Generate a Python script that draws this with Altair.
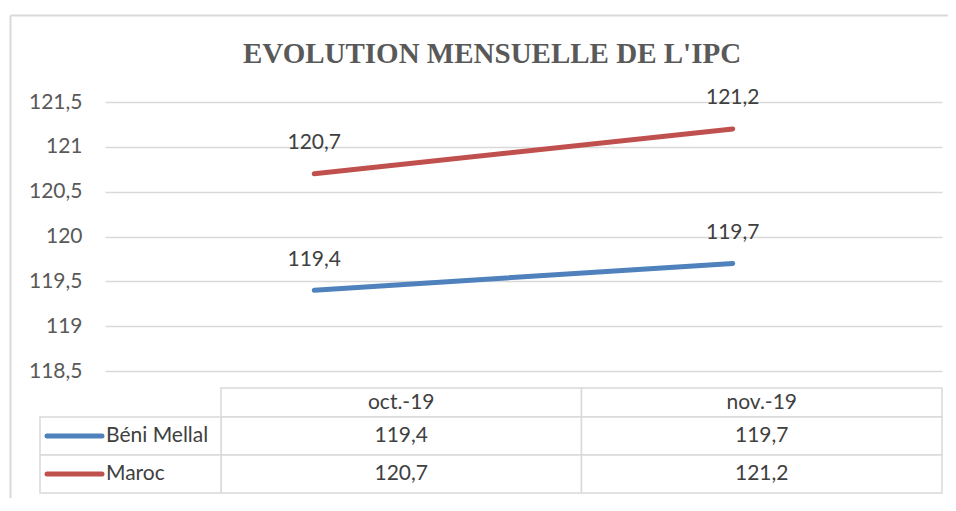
import altair as alt
import pandas as pd

# ---- data ----
months = ["oct.-19", "nov.-19"]
series = ["Béni Mellal", "Maroc"]
beni_mellal = [119.4, 119.7]
maroc = [120.7, 121.2]
colors = ["#4F81BD", "#C0504D"]
y_ticks = [118.5, 119, 119.5, 120, 120.5, 121, 121.5]
title_text = "EVOLUTION MENSUELLE DE L'IPC"


def fr(v):
    return f"{v:.1f}".replace(".", ",")


rows = []
for s, vals in zip(series, [beni_mellal, maroc]):
    for m, v in zip(months, vals):
        rows.append({"series": s, "month": m, "value": v, "label": fr(v)})
df = pd.DataFrame(rows)
hdr = pd.DataFrame({"month": months, "row": ["hdr"] * len(months)})
lab = pd.DataFrame({"series": series, "col": ["lab"] * len(series)})
one = pd.DataFrame({"title": [title_text]})

W, H = 837, 269
GRID = "#d9d9d9"
TXT = "#404040"
AX = "#595959"
FONT = "Lato"
FS = 21

x_line = alt.Scale(type="point", domain=months, range=[0, W], padding=0.5)
y_line = alt.Scale(domain=[118.5, 121.5], zero=False, nice=False)
x_tab = alt.Scale(type="band", domain=months, range=[116, W], paddingInner=0, paddingOuter=0)
y_hdr = alt.Scale(type="band", domain=["hdr"], range=[286, 315], paddingInner=0, paddingOuter=0)
y_body = alt.Scale(type="band", domain=series, range=[315, 391], paddingInner=0, paddingOuter=0)
x_lab = alt.Scale(type="band", domain=["lab"], range=[-65, 116], paddingInner=0, paddingOuter=0)
color = alt.Color("series:N", scale=alt.Scale(domain=series, range=colors), legend=None)

y_axis = alt.Axis(
    values=y_ticks, title=None, grid=True, gridColor=GRID, gridWidth=1.3,
    domain=False, ticks=False, labelPadding=23, labelFont=FONT,
    labelFontSize=FS, labelColor=AX,
    labelExpr="replace(toString(datum.value), '.', ',')",
)

# ---- line chart ----
line = alt.Chart(df).mark_line(strokeWidth=5, strokeCap="round").encode(
    x=alt.X("month:N", scale=x_line, axis=None),
    y=alt.Y("value:Q", scale=y_line, axis=y_axis),
    color=color,
    detail="series:N",
)
labels = alt.Chart(df).mark_text(
    font=FONT, fontSize=FS, color=TXT, baseline="alphabetic", dy=-24.5
).encode(
    x=alt.X("month:N", scale=x_line, axis=None),
    y=alt.Y("value:Q", scale=y_line, axis=y_axis),
    text="label:N",
)
plot = alt.layer(line, labels)

# ---- data table ----
hdr_rect = alt.Chart(hdr).mark_rect(fill="white", stroke=GRID, strokeWidth=1.5).encode(
    x=alt.X("month:N", scale=x_tab, axis=None),
    y=alt.Y("row:N", scale=y_hdr, axis=None),
)
hdr_text = alt.Chart(hdr).mark_text(font=FONT, fontSize=FS, color=TXT, baseline="middle").encode(
    x=alt.X("month:N", scale=x_tab, axis=None),
    y=alt.Y("row:N", scale=y_hdr, axis=None),
    text="month:N",
)
body_rect = alt.Chart(df).mark_rect(fill="white", stroke=GRID, strokeWidth=1.5).encode(
    x=alt.X("month:N", scale=x_tab, axis=None),
    y=alt.Y("series:N", scale=y_body, axis=None),
)
body_text = alt.Chart(df).mark_text(font=FONT, fontSize=FS, color=TXT, baseline="middle").encode(
    x=alt.X("month:N", scale=x_tab, axis=None),
    y=alt.Y("series:N", scale=y_body, axis=None),
    text="label:N",
)
lab_rect = alt.Chart(lab).mark_rect(fill="white", stroke=GRID, strokeWidth=1.5).encode(
    x=alt.X("col:N", scale=x_lab, axis=None),
    y=alt.Y("series:N", scale=y_body, axis=None),
)
lab_key = alt.Chart(lab).mark_rule(strokeWidth=5, strokeCap="round").encode(
    x=alt.value(-58),
    x2=alt.value(-3),
    y=alt.Y("series:N", scale=y_body, axis=None, bandPosition=0.5),
    color=color,
)
lab_text = alt.Chart(lab).mark_text(
    font=FONT, fontSize=FS, color=TXT, baseline="middle", align="left", dx=66
).encode(
    x=alt.X("col:N", scale=x_lab, axis=None, bandPosition=0),
    y=alt.Y("series:N", scale=y_body, axis=None),
    text="series:N",
)

# ---- chart-area frame and title ----
frame_top = alt.Chart(one).mark_rule(color=GRID, strokeWidth=2).encode(
    x=alt.value(-94.5), x2=alt.value(W + 20), y=alt.value(-86.5)
)
frame_left = alt.Chart(one).mark_rule(color=GRID, strokeWidth=2).encode(
    x=alt.value(-94.5), y=alt.value(-86.5), y2=alt.value(H + 150)
)
title = alt.Chart(one).mark_text(
    font="Liberation Serif", fontSize=29, fontWeight="bold", color=AX,
    align="center", baseline="alphabetic",
).encode(x=alt.value(387), y=alt.value(-38.7), text="title:N")

chart = (
    alt.layer(
        frame_top, frame_left, title, plot,
        alt.layer(hdr_rect, hdr_text),
        alt.layer(body_rect, body_text),
        alt.layer(lab_rect, lab_key, lab_text),
    )
    .resolve_scale(x="independent", y="independent")
    .properties(
        width=W,
        height=H,
        autosize=alt.AutoSizeParams(type="none"),
        padding={"left": 97, "top": 94, "right": 6, "bottom": 127},
        view=alt.ViewBackground(stroke="transparent", strokeWidth=0),
    )
    .configure_view(stroke="transparent", strokeWidth=0)
    .configure_axis(domain=False, ticks=False)
    .configure(background="white")
)

chart.save("out.html", embed_options={"renderer": "svg", "actions": False})
